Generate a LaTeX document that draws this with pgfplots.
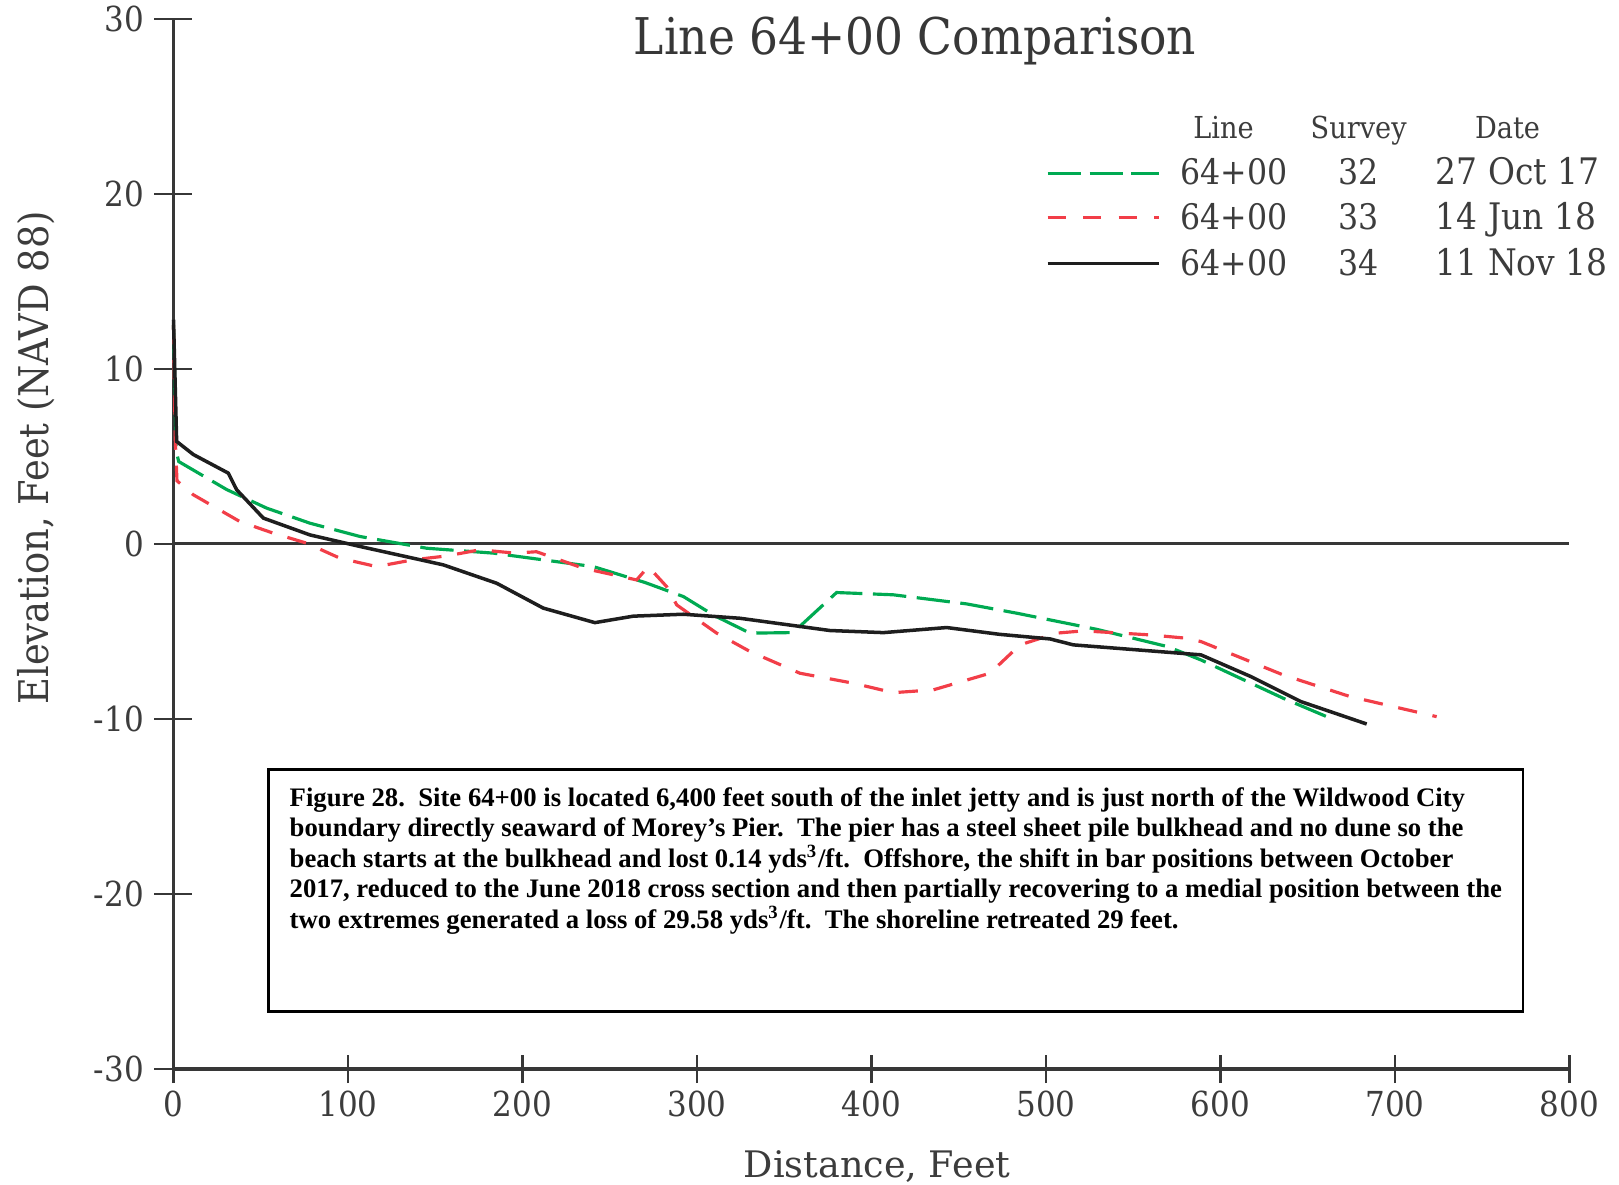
\documentclass[border=0pt]{standalone}
\usepackage{fontspec}
\setmainfont[FakeStretch=0.9]{DejaVu Serif}
\newfontfamily\plainserif{DejaVu Serif}
\newfontfamily\capfont{Liberation Serif}
\usepackage{pgfplots}
\pgfplotsset{compat=1.18}
\definecolor{lgreen}{RGB}{0,170,82}
\definecolor{lred}{RGB}{242,62,72}
\definecolor{lblack}{RGB}{30,30,30}
\definecolor{axgray}{RGB}{55,55,55}
\definecolor{txtgray}{RGB}{60,60,60}
\begin{document}
\begin{tikzpicture}
\useasboundingbox (-1.735cm,-1.15cm) rectangle (14.455cm,10.691cm);
\begin{axis}[
  at={(0,0)}, anchor=south west,
  scale only axis, width=13.96cm, height=10.505cm,
  xmin=0, xmax=800, ymin=-30, ymax=30,
  axis x line=bottom, axis y line=left,
  axis line style={-, draw=axgray, line width=1pt},
  clip=false,
  xtick={0,100,...,800}, ytick={-30,-20,...,30},
  tick align=center,
  major tick length=0.38cm,
  xtick style={/pgfplots/major tick length=0.28cm, draw=axgray, line width=0.6pt},
  ytick style={draw=axgray, line width=0.6pt},
  /pgf/number format/assume math mode=true,
  ticklabel style={font=\fontsize{9.8}{12}\selectfont, text=txtgray},
  xticklabel style={anchor=north, inner sep=0pt, yshift=-0.02cm},
  yticklabel style={anchor=east, inner sep=0pt, xshift=-0.1cm},
]
% zero line
\addplot[axgray, line width=0.8pt, forget plot] coordinates {(0,0) (800,0)};

% Survey 32, 27 Oct 17
\addplot[lgreen, line width=0.9pt, dash pattern=on 9.5pt off 3pt] coordinates {
(0,12.5) (1.5,5.3) (3,4.7) (30.5,3.1) (53.4,2.04) (78.2,1.18) (106.9,0.42)
(145.1,-0.25) (183.3,-0.53) (240.6,-1.3) (270,-2.2) (292.2,-3.01) (310,-4.1)
(330.4,-5.1) (353.3,-5.07) (358,-4.8) (380,-2.78) (412.5,-2.91) (454.5,-3.43)
(483.2,-3.96) (529,-4.88) (569.7,-5.87) (588.8,-6.63) (636,-8.82) (660.9,-9.87)
};
% Survey 33, 14 Jun 18
\addplot[lred, line width=0.9pt, dash pattern=on 5.5pt off 4.5pt] coordinates {
(0,12.5) (1,6) (2,3.6) (11.4,2.8) (38.1,1.27) (57.2,0.61) (76.3,0.04) (95.4,-0.82)
(116.4,-1.3) (137.4,-0.91) (156.6,-0.69) (175.6,-0.34) (195.7,-0.53) (208,-0.45)
(234.8,-1.39) (265.4,-2.06) (272.1,-1.3) (282.6,-2.44) (288.4,-3.49) (311.3,-5.1)
(330.4,-6.15) (359,-7.39) (389.6,-7.96) (412.5,-8.5) (435.4,-8.34) (467.9,-7.39)
(485.1,-5.77) (506.1,-5.1) (521.4,-4.97) (559.6,-5.2) (580.6,-5.39) (588.8,-5.58)
(636,-7.49) (674.2,-8.72) (723.9,-9.87)
};
% Survey 34, 11 Nov 18
\addplot[lblack, line width=1pt] coordinates {
(0,12.8) (1.8,5.85) (11.4,5.1) (31.4,4.04) (36.2,3.09) (51.5,1.47) (78.2,0.51)
(106.9,-0.15) (154.6,-1.2) (185.2,-2.25) (211.9,-3.67) (241.5,-4.5) (263.5,-4.13)
(292.2,-4.02) (324.6,-4.25) (376.2,-4.95) (406.8,-5.07) (443.1,-4.78) (473.6,-5.17)
(502.3,-5.43) (515.7,-5.77) (588.8,-6.34) (617.4,-7.58) (646.1,-9.01) (683.8,-10.29)
};

% title
\node[anchor=base, text=axgray, font=\fontsize{14.4}{16}\selectfont] at (axis cs:425,27.95) {Line 64+00 Comparison};

% legend (drawn as a text table)
\begin{scope}[every node/.style={text=txtgray, font=\fontsize{8.6}{10}\selectfont}]
\node[anchor=base] at (axis cs:601.7,23.18) {Line};
\node[anchor=base] at (axis cs:679.2,23.18) {Survey};
\node[anchor=base] at (axis cs:764.5,23.18) {Date};
\end{scope}
\draw[lgreen, line width=0.9pt, dash pattern=on 9.5pt off 2.4pt] (axis cs:501,21.17) -- (axis cs:564.5,21.17);
\draw[lred, line width=0.9pt, dash pattern=on 5.1pt off 5pt] (axis cs:501,18.63) -- (axis cs:564.5,18.63);
\draw[lblack, line width=1pt] (axis cs:501,16.0) -- (axis cs:564.5,16.0);
\begin{scope}[every node/.style={text=txtgray, inner xsep=0pt, font=\fontsize{10}{12}\selectfont}]
\node[anchor=base west] at (axis cs:576.8,20.51) {64+00};
\node[anchor=base west] at (axis cs:576.8,17.94) {64+00};
\node[anchor=base west] at (axis cs:576.8,15.33) {64+00};
\node[anchor=base] at (axis cs:679.2,20.51) {32};
\node[anchor=base] at (axis cs:679.2,17.94) {33};
\node[anchor=base] at (axis cs:679.2,15.33) {34};
\end{scope}
\begin{scope}[every node/.style={text=txtgray, inner xsep=0pt, font=\fontsize{10.4}{12}\selectfont}]
\node[anchor=base west] at (axis cs:723,20.51) {27 Oct 17};
\node[anchor=base west] at (axis cs:723,17.94) {14 Jun 18};
\node[anchor=base west] at (axis cs:723,15.33) {11 Nov 18};
\end{scope}

% caption box
\draw[black, line width=0.8pt] (axis cs:54.3,-12.91) rectangle (axis cs:773.4,-26.69);
\begin{scope}[every node/.style={anchor=base west, inner sep=0pt, font=\capfont\bfseries\fontsize{7.6}{8}\selectfont}]
\node at (axis cs:66.2,-15.0) {Figure 28.\ \ Site 64+00 is located 6,400 feet south of the inlet jetty and is just north of the Wildwood City};
\node at (axis cs:66.2,-16.74) {boundary directly seaward of Morey’s Pier.\ \ The pier has a steel sheet pile bulkhead and no dune so the};
\node at (axis cs:66.2,-18.48) {beach starts at the bulkhead and lost 0.14 yds\textsuperscript{3}/ft.\ \ Offshore, the shift in bar positions between October};
\node at (axis cs:66.2,-20.22) {2017, reduced to the June 2018 cross section and then partially recovering to a medial position between the};
\node at (axis cs:66.2,-21.96) {two extremes generated a loss of 29.58 yds\textsuperscript{3}/ft.\ \ The shoreline retreated 29 feet.};
\end{scope}

% axis labels
\node[anchor=base, text=txtgray, font=\plainserif\fontsize{10.4}{12}\selectfont] at (axis cs:403.2,-36.17) {Distance, Feet};
\node[rotate=90, text=txtgray, font=\fontsize{11.65}{13}\selectfont] at (axis cs:-78.8,4.91) {Elevation, Feet (NAVD 88)};
\end{axis}
\end{tikzpicture}
\end{document}
